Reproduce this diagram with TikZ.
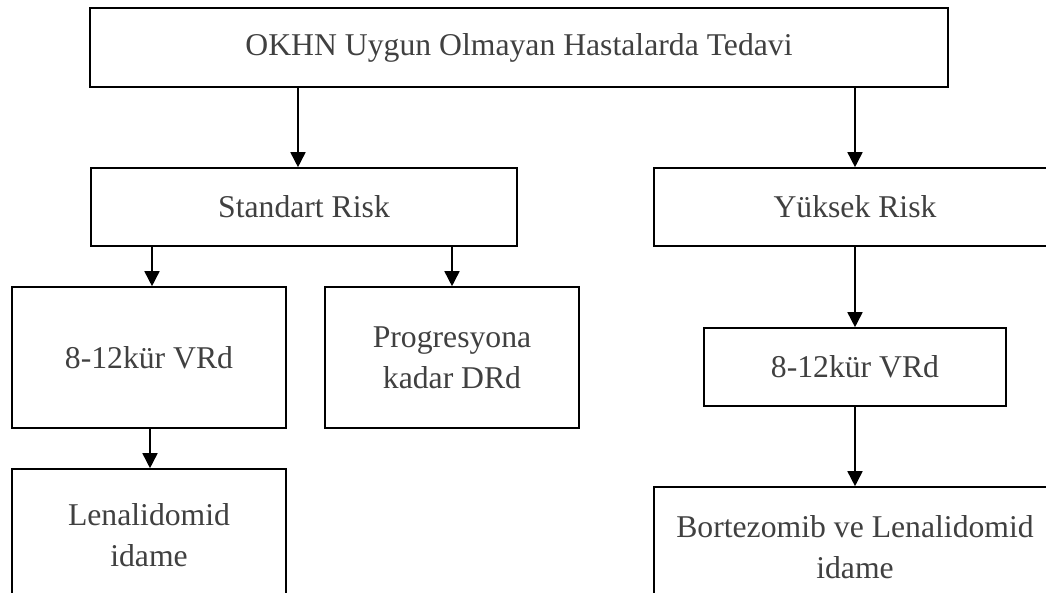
\documentclass[tikz,border=0pt]{standalone}
\usepackage{fontspec}
\setmainfont{Liberation Serif}
\usetikzlibrary{arrows.meta}
\definecolor{txtgray}{HTML}{404040}
\begin{document}
\begin{tikzpicture}[x=1pt, y=-1pt, font=\fontsize{31.7}{41}\selectfont, >={Triangle[width=15pt,length=15pt]},
    box/.style={draw, line width=1.6pt, inner sep=0pt, align=center, text=txtgray},
    arr/.style={->, line width=1.6pt}]
  \useasboundingbox (0,0) rectangle (1046,592);
  % top level
  \node[box, minimum width=858pt, minimum height=79pt] (top) at (519,47.5) {OKHN Uygun Olmayan Hastalarda Tedavi};
  % risk groups
  \node[box, minimum width=426pt, minimum height=78pt] (std) at (304,207) {Standart Risk};
  \node[box, minimum width=402pt, minimum height=78pt] (yuk) at (855,207) {Yüksek Risk};
  % standard risk branch
  \node[box, minimum width=274pt, minimum height=141pt] (vrda) at (149,357.5) {8-12kür VRd};
  \node[box, minimum width=254pt, minimum height=141pt] (prog) at (452,357.5) {Progresyona\\kadar DRd};
  \node[box, minimum width=274pt, minimum height=133pt] (lena) at (149,535.5) {Lenalidomid\\idame};
  % high risk branch
  \node[box, minimum width=302pt, minimum height=78pt] (vrdb) at (855,367) {8-12kür VRd};
  \node[box, minimum width=402pt, minimum height=120pt] (bort) at (855,547) {Bortezomib ve Lenalidomid\\idame};
  % arrows
  \draw[arr] ([xshift=-6pt]std.north |- top.south) -- ([xshift=-6pt]std.north);
  \draw[arr] (yuk.north |- top.south) -- (yuk.north);
  \draw[arr] ([xshift=3pt]vrda.north |- std.south) -- ([xshift=3pt]vrda.north);
  \draw[arr] (prog.north |- std.south) -- (prog.north);
  \draw[arr] ([xshift=1pt]vrda.south) -- ([xshift=1pt]lena.north);
  \draw[arr] (yuk.south) -- (vrdb.north);
  \draw[arr] (vrdb.south) -- (bort.north);
\end{tikzpicture}
\end{document}
